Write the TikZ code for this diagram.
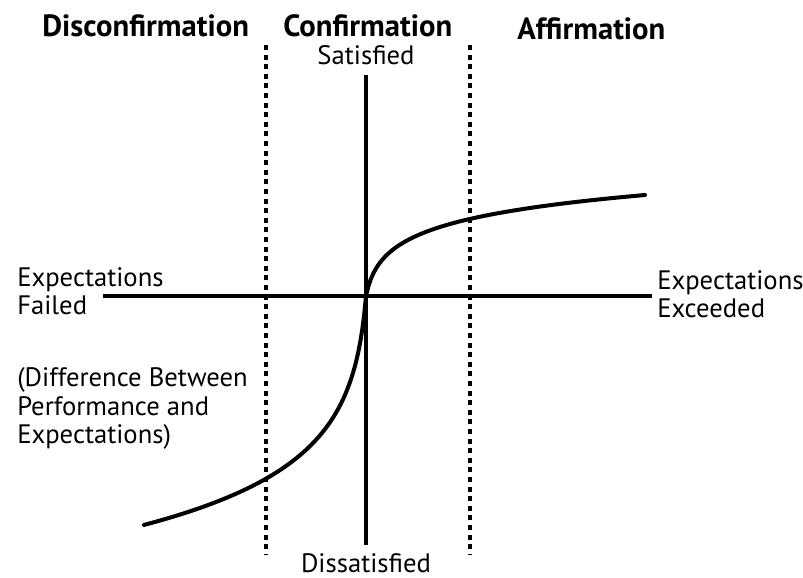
\documentclass[tikz,border=0pt]{standalone}
\usepackage{fontspec}
\setmainfont{PT Sans}
\begin{document}
\begin{tikzpicture}[x=0.75pt,y=0.75pt,
  axis/.style={line width=2.4pt},
  zoneline/.style={line width=2.6pt,dash pattern=on 3.7pt off 3.5pt},
  response/.style={line width=3pt,line cap=round,line join=round},
  heading/.style={font={\fontsize{23}{26}\selectfont\bfseries},inner sep=0pt},
  txt/.style={font={\fontsize{20}{21.5}\selectfont},inner sep=0pt,align=left}]
\useasboundingbox (0,0) rectangle (803,578);

% zone boundaries
\coordinate (lt) at (266,533);
\coordinate (lb) at (266,23);
\coordinate (rt) at (470,533);
\coordinate (rb) at (470,23);
\draw[zoneline] (lt) -- (lb);
\draw[zoneline] (rt) -- (rb);

% axes
\coordinate (o) at (366,282);
\coordinate (xl) at (103,282);
\coordinate (xr) at (652,282);
\coordinate (yt) at (366,503);
\coordinate (yb) at (366,33);
\draw[axis] (xl) -- (xr);
\draw[axis] (yt) -- (yb);

% satisfaction response curve: logarithmic on each side of the origin
\draw[response]
  plot[domain=222:0,samples=120] ({366-\x},{282-60*ln(1+\x/5)})
  -- plot[domain=0:279,samples=120] ({366+\x},{282+25*ln(1+\x/5)});

% zone headings
\node[heading,anchor=base west] (dis) at (42,541) {Disconfirmation};
\node[heading,anchor=base west] (con) at (283,541) {Confirmation};
\node[heading,anchor=base west] (aff) at (517,538) {Affirmation};

% axis labels (multi-line nodes sit on the baseline of their last line)
\node[txt,anchor=base] (sat) at (366,513) {Satisfied};
\node[txt,anchor=base] (dissat) at (366,5) {Dissatisfied};
\node[txt,anchor=base west] (failed) at (17,263) {Expectations\\Failed};
\node[txt,anchor=base west] (exceeded) at (657,260) {Expectations\\Exceeded};
\node[txt,anchor=base west] (diff) at (17,134) {(Difference Between\\Performance and\\Expectations)};
\end{tikzpicture}
\end{document}
